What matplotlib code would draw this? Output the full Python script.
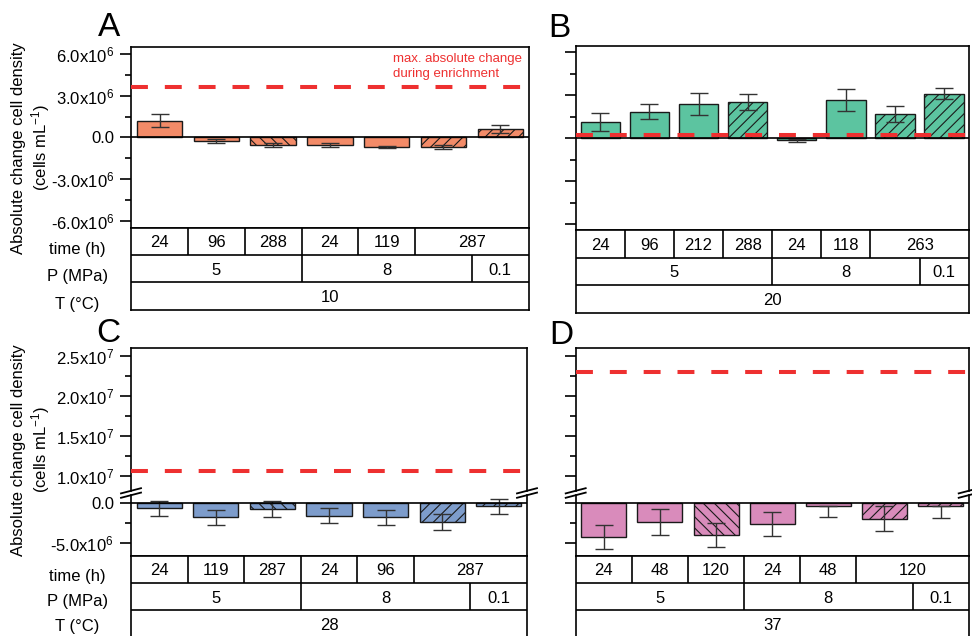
import matplotlib
matplotlib.use('Agg')
import matplotlib.pyplot as plt
from matplotlib.lines import Line2D
import numpy as np

plt.rcParams['font.family'] = ['Liberation Sans', 'DejaVu Sans']
plt.rcParams['mathtext.fontset'] = 'custom'
plt.rcParams['mathtext.rm'] = 'Liberation Sans'
plt.rcParams['mathtext.it'] = 'Liberation Sans:italic'
plt.rcParams['mathtext.bf'] = 'Liberation Sans:bold'
plt.rcParams['hatch.linewidth'] = 0.8

# ---- 10 °C ----
a_values = [1.20e6, -0.28e6, -0.55e6, -0.57e6, -0.69e6, -0.69e6, 0.60e6]
a_err_lo = [0.49e6, 0.15e6, 0.15e6, 0.13e6, 0.10e6, 0.12e6, 0.29e6]
a_err_hi = [0.49e6, 0.15e6, 0.15e6, 0.13e6, 0.10e6, 0.12e6, 0.29e6]
a_hatch = ['', '', '\\\\\\', '', '', '///', '///']
a_time = ['24', '96', '288', '24', '119', '287']
a_time_span = [1, 1, 1, 1, 1, 2]
a_pres = ['5', '8', '0.1']
a_pres_span = [3, 3, 1]
a_temp = '10'
a_max = 3.63e6

# ---- 20 °C ----
b_values = [1.12e6, 1.86e6, 2.37e6, 2.51e6, -0.14e6, 2.65e6, 1.67e6, 3.12e6]
b_err_lo = [0.62e6, 0.53e6, 0.78e6, 0.57e6, 0.10e6, 0.76e6, 0.55e6, 0.40e6]
b_err_hi = [0.62e6, 0.53e6, 0.78e6, 0.57e6, 0.10e6, 0.76e6, 0.55e6, 0.40e6]
b_hatch = ['', '', '', '///', '', '', '///', '///']
b_time = ['24', '96', '212', '288', '24', '118', '263']
b_time_span = [1, 1, 1, 1, 1, 1, 2]
b_pres = ['5', '8', '0.1']
b_pres_span = [4, 3, 1]
b_temp = '20'
b_max = 0.26e6

# ---- 28 °C ----
c_values = [-0.63e6, -1.75e6, -0.70e6, -1.58e6, -1.75e6, -2.33e6, -0.35e6]
c_err_lo = [0.98e6, 0.96e6, 0.96e6, 0.94e6, 0.94e6, 0.98e6, 0.93e6]
c_err_hi = [0.98e6, 0.96e6, 0.96e6, 0.94e6, 0.94e6, 0.98e6, 0.93e6]
c_hatch = ['', '', '\\\\\\', '', '', '///', '///']
c_time = ['24', '119', '287', '24', '96', '287']
c_time_span = [1, 1, 1, 1, 1, 2]
c_pres = ['5', '8', '0.1']
c_pres_span = [3, 3, 1]
c_temp = '28'
c_max = 1.066e7

# ---- 37 °C ----
d_values = [-4.20e6, -2.29e6, -3.96e6, -2.54e6, -0.30e6, -1.90e6, -0.38e6]
d_err_lo = [1.48e6, 1.62e6, 1.46e6, 1.50e6, 1.42e6, 1.58e6, 1.50e6]
d_err_hi = [1.48e6, 1.62e6, 1.46e6, 1.50e6, 0.0, 1.58e6, 0.0]
d_hatch = ['', '', '\\\\\\', '', '', '///', '///']
d_time = ['24', '48', '120', '24', '48', '120']
d_time_span = [1, 1, 1, 1, 1, 2]
d_pres = ['5', '8', '0.1']
d_pres_span = [3, 3, 1]
d_temp = '37'
d_max = 2.30e7

colors = {'A': '#F38B68', 'B': '#5CC4A0', 'C': '#7D9CCB', 'D': '#D98BBB'}
red = '#EE3030'

W, H = 972, 636
fig = plt.figure(figsize=(W / 100, H / 100), dpi=100)


def box(x0, y0, x1, y1):
    # pixel box measured from the top-left -> figure rect
    return [x0 / W, 1 - y1 / H, (x1 - x0) / W, (y1 - y0) / H]


def fx(x):
    return x / W


def fy(y):
    return 1 - y / H


def style_y(ax, majors, minors, labels, show):
    ax.set_yticks(majors)
    ax.set_yticks(minors, minor=True)
    ax.set_yticklabels(labels if show else [''] * len(majors), fontsize=12)
    ax.tick_params(axis='y', which='major', direction='out', length=7.7, width=1.2, pad=4.5)
    ax.tick_params(axis='y', which='minor', direction='out', length=4.6, width=1.2)
    ax.set_xticks([])
    for s in ax.spines.values():
        s.set_linewidth(1.2)


def draw_bars(ax, values, err_lo, err_hi, hatches, color):
    n = len(values)
    x = np.arange(n) + 0.5
    bars = ax.bar(x, values, width=0.8, color=color, edgecolor='#1a1a1a',
                  linewidth=1.0, zorder=2)
    for patch, h in zip(bars, hatches):
        patch.set_hatch(h)
    ax.errorbar(x, values, yerr=[err_lo, err_hi], fmt='none', ecolor='#333333',
                elinewidth=1.0, capsize=6.5, capthick=1.0, zorder=3)
    ax.axhline(0, color='black', lw=1.2, zorder=4)
    ax.set_xlim(0, n)


def max_line(ax, y):
    ax.axhline(y, color=red, lw=2.9, dashes=(4.2, 4.2), zorder=5)


def draw_table(ax, n, time_labels, time_spans, pres_labels, pres_spans, temp_label):
    ax.set_xlim(0, n)
    ax.set_ylim(0, 3)
    ax.set_xticks([])
    ax.set_yticks([])
    for s in ax.spines.values():
        s.set_linewidth(1.2)
    rows = [(2, time_labels, time_spans), (1, pres_labels, pres_spans),
            (0, [temp_label], [n])]
    for y0, labels, spans in rows:
        edges = np.concatenate([[0], np.cumsum(spans)])
        for lab, left, right in zip(labels, edges[:-1], edges[1:]):
            ax.text((left + right) / 2, y0 + 0.5, lab, ha='center',
                    va='center_baseline', fontsize=12)
        if len(edges) > 2:
            ax.vlines(edges[1:-1], y0, y0 + 1, color='black', lw=1.2)
    ax.hlines([1, 2], 0, n, color='black', lw=1.2)


def break_marks(x, y):
    for dy in (-2.2, 2.2):
        fig.add_artist(Line2D([fx(x - 10), fx(x + 10)],
                              [fy(y + dy + 2.6), fy(y + dy - 2.6)],
                              color='black', lw=1.3))


def row_labels(ys):
    for text, y in zip(['time (h)', 'P (MPa)', 'T (°C)'], ys):
        fig.text(fx(77.5), fy(y), text, ha='center', va='center', fontsize=12)


def y_label(yc):
    fig.text(fx(19), fy(yc), 'Absolute change cell density', rotation=90,
             ha='center', va='center', fontsize=12)
    fig.text(fx(41), fy(yc), '(cells mL$^{-1}$)', rotation=90,
             ha='center', va='center', fontsize=12)


# ticks shared by panels A and B
ab_major = [-6e6, -3e6, 0, 3e6, 6e6]
ab_minor = [-4.5e6, -1.5e6, 1.5e6, 4.5e6]
ab_labels = ['-6.0x10$^{6}$', '-3.0x10$^{6}$', '0.0', '3.0x10$^{6}$', '6.0x10$^{6}$']

# ticks for the broken axes of panels C and D
hi_major = [1.0e7, 1.5e7, 2.0e7, 2.5e7]
hi_minor = [1.25e7, 1.75e7, 2.25e7]
hi_labels = ['1.0x10$^{7}$', '1.5x10$^{7}$', '2.0x10$^{7}$', '2.5x10$^{7}$']
lo_major = [-5e6, 0]
lo_minor = [-2.5e6]
lo_labels = ['-5.0x10$^{6}$', '0.0']

# ---------- A ----------
axA = fig.add_axes(box(131.2, 47.3, 528.6, 227.7))
draw_bars(axA, a_values, a_err_lo, a_err_hi, a_hatch, colors['A'])
max_line(axA, a_max)
axA.set_ylim(-6.5e6, 6.48e6)
style_y(axA, ab_major, ab_minor, ab_labels, True)
tA = fig.add_axes(box(131.2, 227.7, 528.6, 309.5))
draw_table(tA, len(a_values), a_time, a_time_span, a_pres, a_pres_span, a_temp)
fig.text(fx(392.6), fy(66.5), 'max. absolute change\nduring enrichment', color=red,
         fontsize=9.5, ha='left', va='center', linespacing=1.3)
row_labels([249.3, 276.7, 304])
y_label(148)

# ---------- B ----------
axB = fig.add_axes(box(575.7, 45.7, 968.7, 230))
draw_bars(axB, b_values, b_err_lo, b_err_hi, b_hatch, colors['B'])
max_line(axB, b_max)
axB.set_ylim(-6.4e6, 6.46e6)
style_y(axB, ab_major, ab_minor, ab_labels, False)
tB = fig.add_axes(box(575.7, 230, 968.7, 312.7))
draw_table(tB, len(b_values), b_time, b_time_span, b_pres, b_pres_span, b_temp)


# ---------- C and D (broken y axis) ----------
def broken_panel(x0, x1, top, top_lim, values, err_lo, err_hi, hatches, color,
                 max_val, show):
    up = fig.add_axes(box(x0, top, x1, 491))
    lo = fig.add_axes(box(x0, 495, x1, 555.7), sharex=up)
    draw_bars(lo, values, err_lo, err_hi, hatches, color)
    max_line(up, max_val)
    up.set_ylim(8.125e6, top_lim)
    lo.set_ylim(-6.55e6, 1.04e6)
    style_y(up, hi_major, hi_minor, hi_labels, show)
    style_y(lo, lo_major, lo_minor, lo_labels, show)
    up.spines['bottom'].set_visible(False)
    lo.spines['top'].set_visible(False)
    break_marks(x0, 493)
    break_marks(x1, 493)
    return up, lo


broken_panel(131.0, 527.0, 347.7, 2.604e7, c_values, c_err_lo, c_err_hi,
             c_hatch, colors['C'], c_max, True)
tC = fig.add_axes(box(131.0, 555.7, 527.0, 637.5))
draw_table(tC, len(c_values), c_time, c_time_span, c_pres, c_pres_span, c_temp)
row_labels([576.7, 601.7, 626.7])
y_label(450)

broken_panel(575.7, 968.7, 348.3, 2.593e7, d_values, d_err_lo, d_err_hi,
             d_hatch, colors['D'], d_max, False)
tD = fig.add_axes(box(575.7, 555.7, 968.7, 637.5))
draw_table(tD, len(d_values), d_time, d_time_span, d_pres, d_pres_span, d_temp)

# panel letters
for letter, x, y in [('A', 98, 36), ('B', 548, 36.7), ('C', 96.4, 341.7), ('D', 549, 344.3)]:
    fig.text(fx(x), fy(y), letter, fontsize=24, ha='left', va='baseline')

fig.savefig('out.png', dpi=100)
